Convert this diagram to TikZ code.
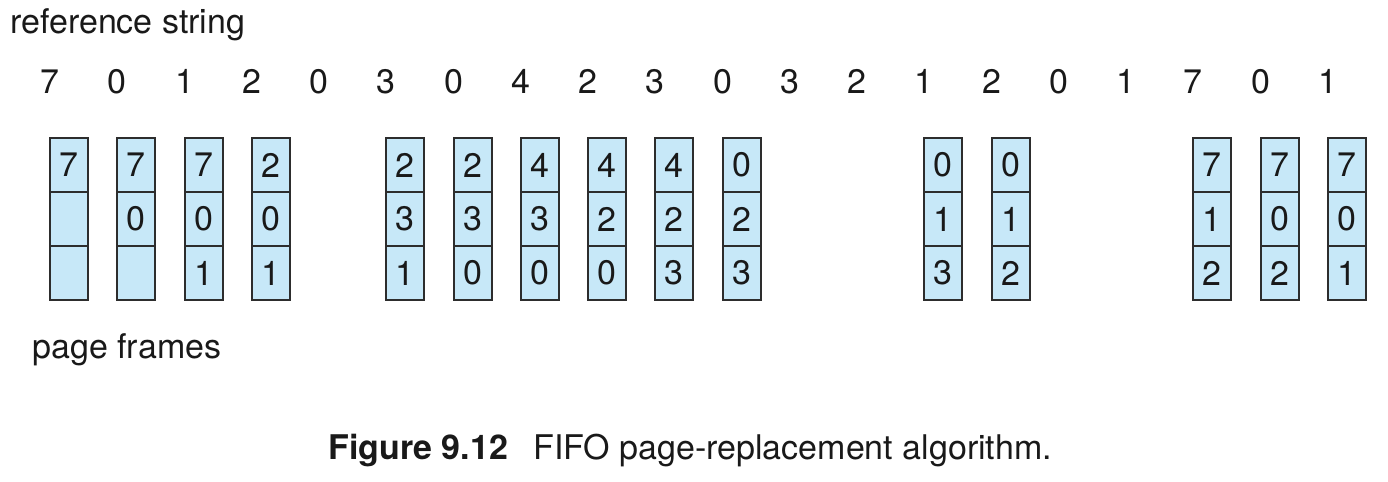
\documentclass[tikz,border=0pt]{standalone}
\usepackage{fontspec}
\setmainfont{TeX Gyre Heros}
\definecolor{framefill}{RGB}{199,232,248}
\definecolor{frameline}{RGB}{45,45,45}
\definecolor{textcol}{RGB}{25,25,25}
\usepackage{tikz}

\tikzset{
  label/.style={inner sep=0pt, text=textcol, font=\fontsize{17}{20}\selectfont},
  refdigit/.style={label, anchor=base},
  cell/.style={draw=frameline, line width=1pt, fill=framefill, minimum width=19pt,
    minimum height=27pt, inner sep=0pt, text=textcol, font=\fontsize{17}{20}\selectfont},
}

\begin{document}
\begin{tikzpicture}[x=0.5pt, y=-0.5pt]
  %% Page size
  \useasboundingbox (0,0) rectangle (1388,482);

  %% Reference string
  \node[label, anchor=base west] (reftitle) at (10,33) {reference string};
  \foreach \d [count=\i from 0] in {7,0,1,2,0,3,0,4,2,3,0,3,2,1,2,0,1,7,0,1}
    \node[refdigit] (ref\i) at (50+67.25*\i,93) {\d};

  %% Page frames after each fault
  \foreach \i/\a/\b/\c in {0/7/{}/{}, 1/7/0/{}, 2/7/0/1, 3/2/0/1,
      5/2/3/1, 6/2/3/0, 7/4/3/0, 8/4/2/0, 9/4/2/3, 10/0/2/3,
      13/0/1/3, 14/0/1/2, 17/7/1/2, 18/7/0/2, 19/7/0/1} {
    \node[cell] (frame\i a) at (69+67.25*\i,165) {\a};
    \node[cell] (frame\i b) at (69+67.25*\i,219) {\b};
    \node[cell] (frame\i c) at (69+67.25*\i,273) {\c};
  }
  \node[label, anchor=base west] (frametitle) at (32,358) {page frames};

  %% Caption
  \node[label, anchor=base west, font=\fontsize{17}{20}\selectfont\bfseries]
    (capnum) at (328,459) {Figure 9.12};
  \node[label, anchor=base west] (captext) at (533,459) {FIFO page-replacement algorithm.};
\end{tikzpicture}
\end{document}
